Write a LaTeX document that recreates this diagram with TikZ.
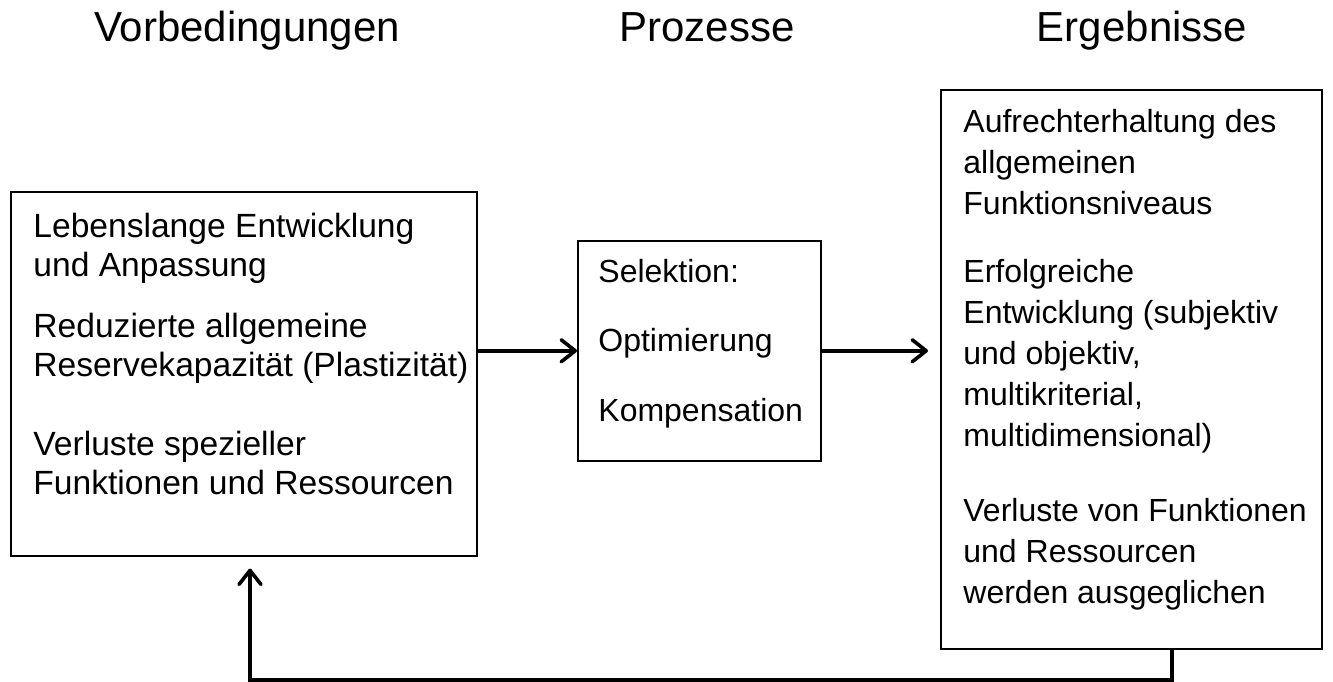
\documentclass[tikz,border=0pt]{standalone}
\usepackage{fontspec}
\setmainfont{Liberation Sans}
\usetikzlibrary{arrows.meta,positioning}

\begin{document}
\begin{tikzpicture}[x=0.5pt,y=-0.5pt,
    box/.style={draw, line width=0.8pt, inner sep=0pt, anchor=north west},
    txt/.style={anchor=north west, align=left, inner sep=0pt, font=\fontsize{16}{19.25}\selectfont},
    head/.style={anchor=base, inner sep=0pt, font=\fontsize{21}{25}\selectfont},
    pfeil/.style={line width=1.8pt, -{Straight Barb[length=7pt,width=11pt,round]}},
  ]
  \useasboundingbox (0,0) rectangle (1333,681);

  % Kopfzeile
  \node[head] (hvor)  at (247,41)  {Vorbedingungen};
  \node[head] (hproz) at (707,41)  {Prozesse};
  \node[head] (herg)  at (1142,41) {Ergebnisse};

  % Kaesten
  \node[box, minimum width=233pt, minimum height=182pt]   (vor)  at (10,191) {};
  \node[box, minimum width=121.5pt, minimum height=110pt] (proz) at (577,240) {};
  \node[box, minimum width=190.5pt, minimum height=279.5pt] (erg) at (940,89) {};

  \node[txt, font=\fontsize{16.8}{19.25}\selectfont] (vortxt) at (33,213) {Lebenslange Entwicklung\\und Anpassung\\[11.5pt]
    Reduzierte allgemeine\\Reservekapazität (Plastizität)\\[20.5pt]
    Verluste spezieller\\Funktionen und Ressourcen};
  \node[txt] (proztxt) at (598,258.5) {Selektion:\\[15.5pt]Optimierung\\[15.5pt]Kompensation};
  \node[txt, font=\fontsize{16}{20.5}\selectfont] (ergtxt) at (963,108.5) {Aufrechterhaltung des\\allgemeinen\\Funktionsniveaus\\[13.5pt]
    Erfolgreiche\\Entwicklung (subjektiv\\und objektiv,\\multikriterial,\\multidimensional)\\[17pt]
    Verluste von Funktionen\\und Ressourcen\\werden ausgeglichen};

  % Pfeile
  \draw[pfeil] (vor.east |- proz.west) -- (proz.west);
  \draw[pfeil, shorten >=6pt] (proz.east) -- (proz.east -| erg.west);

  % Rueckkopplung
  \coordinate (re) at (1172,680);
  \coordinate (li) at (250,680);
  \draw[pfeil, shorten >=6pt] (erg.south -| re) -- (re) -- (li) -- (vor.south -| li);
\end{tikzpicture}
\end{document}
